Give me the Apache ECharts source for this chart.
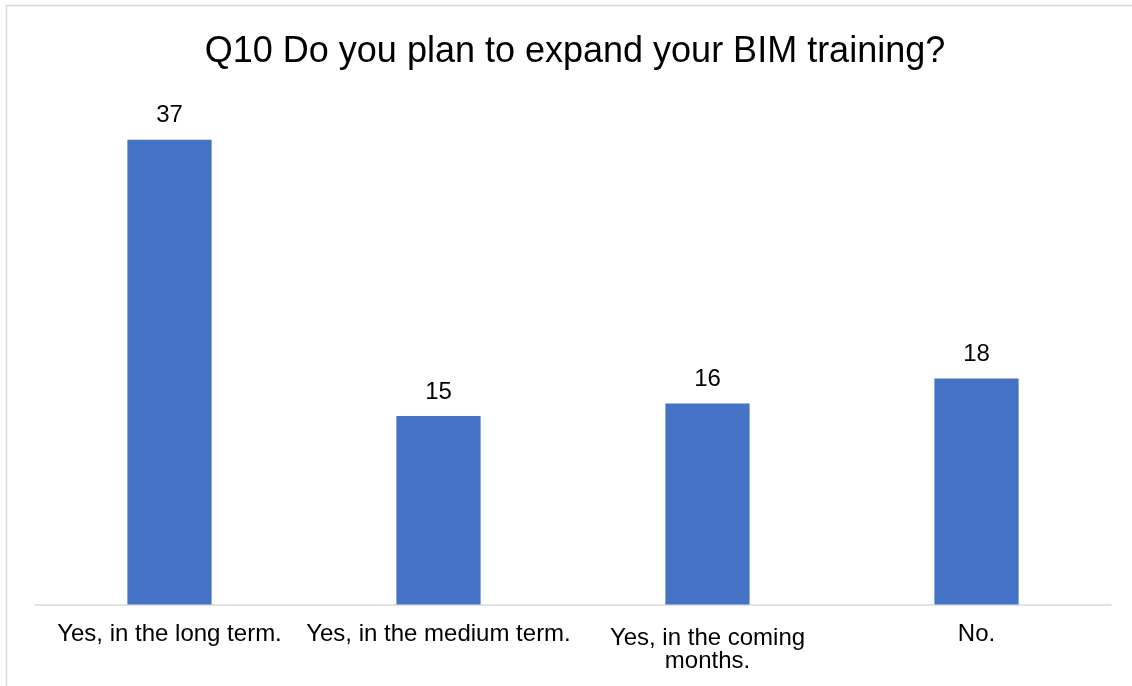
<!DOCTYPE html>
<html>
<head>
<meta charset="utf-8">
<script src="https://cdn.jsdelivr.net/npm/echarts@6/dist/echarts.min.js"></script>
<style>
  html, body { margin: 0; padding: 0; background: #ffffff; }
  #chart { width: 1132px; height: 686px; }
</style>
</head>
<body>
<div id="chart"></div>
<script>
// Survey answers and response counts
const chartTitle = 'Q10 Do you plan to expand your BIM training?';
const categories = [
  'Yes, in the long term.',
  'Yes, in the medium term.',
  'Yes, in the coming\nmonths.',
  'No.'
];
const responses = [37, 15, 16, 18];

const FONT = '"Liberation Sans", Arial, sans-serif';

// wrapped labels sit a touch lower than single-line ones
const categoryItems = categories.map(function (c) {
  return c.indexOf('\n') >= 0
    ? { value: c, textStyle: { padding: [4, 0, 0, 0] } }
    : c;
});

const chart = echarts.init(document.getElementById('chart'), null, { renderer: 'canvas' });

chart.setOption({
  backgroundColor: '#ffffff',
  animation: false,
  title: {
    text: chartTitle,
    left: 570,
    top: 29,
    textAlign: 'center',
    textStyle: { fontFamily: FONT, fontSize: 36, fontWeight: 'normal', color: '#000000' }
  },
  // light frame around the chart area
  graphic: [{
    type: 'rect',
    shape: { x: 6.5, y: 5.5, width: 1400, height: 900 },
    style: { fill: 'none', stroke: '#d9d9d9', lineWidth: 1.5 },
    silent: true
  }],
  grid: { left: 35, right: 21, top: 102, bottom: 81.5, containLabel: false },
  xAxis: {
    type: 'category',
    data: categoryItems,
    axisLine: { show: true, lineStyle: { color: '#d9d9d9', width: 1.5 } },
    axisTick: { show: false },
    axisLabel: {
      interval: 0,
      margin: 18,
      fontFamily: FONT,
      fontSize: 24,
      lineHeight: 23,
      color: '#000000'
    }
  },
  yAxis: {
    type: 'value',
    min: 0,
    max: 40,
    show: false,
    splitLine: { show: false }
  },
  series: [{
    type: 'bar',
    data: responses,
    barWidth: '31.3%',
    itemStyle: { color: '#4472C4' },
    label: {
      show: true,
      position: 'top',
      distance: 12,
      fontFamily: FONT,
      fontSize: 24,
      color: '#000000'
    }
  }]
});
</script>
</body>
</html>
